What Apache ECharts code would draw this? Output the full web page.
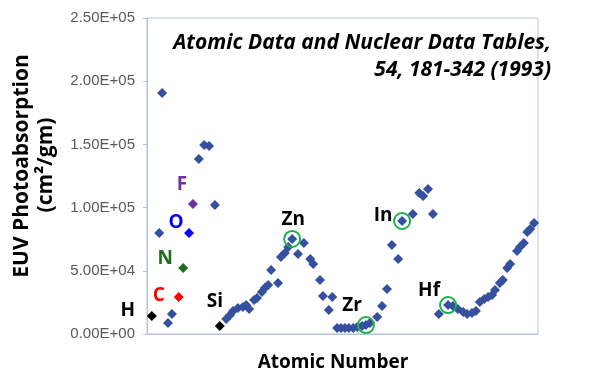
<!DOCTYPE html>
<html>
<head>
<meta charset="utf-8">
<script src="https://cdn.jsdelivr.net/npm/echarts@6/dist/echarts.min.js"></script>
<style>
  html, body { margin: 0; padding: 0; background: #ffffff; }
  #chart { width: 590px; height: 383px; }
</style>
</head>
<body>
<div id="chart"></div>
<script>
// ---- Data (x = position along the atomic-number axis, y = cm^2/gm) ----
const elementPos = [2.5, 3.1, 4.3, 5.1, 10.6, 11.7, 12.7, 13.9, 16.2, 17.0, 17.6, 18.6, 19.6, 20.3, 20.9, 21.9, 22.5, 23.5, 24.1, 24.8, 25.4, 26.8, 27.4, 28.2, 28.9, 29.7, 30.9, 32.1, 33.4, 34.0, 35.4, 36.0, 37.2, 37.9, 38.9, 39.7, 40.5, 41.3, 42.2, 43.0, 44.0, 44.8, 45.6, 47.1, 48.1, 49.1, 50.1, 51.4, 52.2, 54.4, 55.7, 56.5, 57.5, 58.5, 59.7, 61.6, 62.6, 63.6, 64.7, 65.5, 66.5, 67.3, 68.1, 69.0, 69.8, 70.6, 71.2, 72.2, 72.8, 73.7, 74.3, 75.7, 76.3, 77.1, 77.8, 78.4, 79.2];
const absorption = [79900, 190600, 8700, 15800, 138400, 149500, 148700, 102000, 11900, 15000, 18200, 20600, 21400, 22900, 19800, 26900, 28500, 33200, 36400, 38800, 50600, 40400, 60900, 64100, 68800, 75200, 63300, 72000, 59300, 55400, 42700, 30100, 19000, 29300, 4700, 4700, 4700, 4700, 4700, 5500, 6300, 7100, 8700, 13500, 22200, 35600, 70400, 59300, 89400, 94900, 111600, 109200, 114700, 94900, 15800, 22900, 22200, 19800, 17400, 15800, 16600, 18200, 25300, 27700, 29300, 30900, 34800, 40400, 42700, 52200, 55400, 65700, 68800, 72000, 80700, 83100, 87800];

const labelledNames = ['H', 'C', 'N', 'O', 'F', 'Si'];
const labelledPos = [1.0, 6.5, 7.4, 8.6, 9.4, 14.9];
const labelledValues = [14200, 29300, 52200, 79900, 102800, 6300];

const circledNames = ['Zn', 'Zr', 'In', 'Hf'];
const circledPos = [29.7, 44.8, 52.2, 61.6];
const circledValues = [75200, 7100, 89400, 22900];

const yTicks = [0, 50000, 100000, 150000, 200000, 250000];

// ---- Styles ----
const blue = '#34509f';
const labelledColors = { H: '#000000', C: '#ff0000', N: '#1e6b1e', O: '#0000ff', F: '#7030a0', Si: '#000000' };
const labelledOffsets = { H: [-24, -5], C: [-20, -1], N: [-18, -9], O: [-13, -10], F: [-11, -19], Si: [-5, -24] };
const circledOffsets = { Zn: [1, -19], Zr: [-14, -19], In: [-19, -5], Hf: [-19, -14] };
const labelFont = { fontFamily: 'Open Sans', fontWeight: 'bold', fontSize: 19 };

function sci(v) {
  if (v === 0) return '0.00E+00';
  const e = Math.floor(Math.log10(v) + 1e-9);
  const m = v / Math.pow(10, e);
  return m.toFixed(2) + 'E+' + String(e).padStart(2, '0');
}

const chart = echarts.init(document.getElementById('chart'), null, { renderer: 'canvas' });

const mainData = elementPos.map((x, i) => [x, absorption[i]]);
const labelledSeries = labelledNames.map((name, i) => ({
  type: 'scatter',
  name: name,
  symbol: 'diamond',
  symbolSize: 10,
  itemStyle: { color: labelledColors[name], opacity: 1 },
  data: [[labelledPos[i], labelledValues[i]]],
  label: Object.assign({
    show: true, position: 'inside', formatter: name,
    color: labelledColors[name], offset: labelledOffsets[name]
  }, labelFont),
  z: 3
}));

const circleData = circledNames.map((name, i) => ({
  value: [circledPos[i], circledValues[i]],
  label: Object.assign({
    show: true, position: 'inside', formatter: name, color: '#000000',
    offset: circledOffsets[name]
  }, labelFont)
}));

const titleStyle = { fontFamily: 'Open Sans', fontStyle: 'italic', fontWeight: 'bold', fontSize: 21, fill: '#000', align: 'right', verticalAlign: 'middle' };
const axisNameStyle = { fontFamily: 'Open Sans', fontWeight: 'bold', fontSize: 21, fill: '#000', align: 'center', verticalAlign: 'middle' };

chart.setOption({
  animation: false,
  backgroundColor: '#ffffff',
  grid: { left: 147, right: 52, top: 18, bottom: 49, show: true, borderColor: '#b4c2e0', borderWidth: 1 },
  xAxis: {
    type: 'value', min: 0, max: 80,
    axisLine: { show: true, lineStyle: { color: '#b4c2e0' } },
    axisTick: { show: false }, axisLabel: { show: false }, splitLine: { show: false }
  },
  yAxis: {
    type: 'value', min: 0, max: 250000, interval: 50000,
    axisLine: { show: true, lineStyle: { color: '#b4c2e0' } },
    axisTick: { show: true, length: 4, lineStyle: { color: '#b4c2e0' } },
    splitLine: { show: false },
    axisLabel: {
      formatter: function (v) { return yTicks.indexOf(v) >= 0 ? sci(v) : ''; },
      color: '#595959', fontFamily: 'Liberation Sans', fontSize: 15, margin: 12
    }
  },
  graphic: [
    { type: 'text', x: 551, y: 43, style: Object.assign({ text: 'Atomic Data and Nuclear Data Tables,' }, titleStyle) },
    { type: 'text', x: 551, y: 70, style: Object.assign({ text: '54, 181-342 (1993)' }, titleStyle) },
    { type: 'text', x: 22, y: 166, rotation: Math.PI / 2, style: Object.assign({ text: 'EUV Photoabsorption' }, axisNameStyle) },
    { type: 'text', x: 46, y: 165, rotation: Math.PI / 2, style: Object.assign({ text: '(cm²/gm)' }, axisNameStyle) },
    { type: 'text', x: 333, y: 363, style: Object.assign({ text: 'Atomic Number' }, axisNameStyle, { fontSize: 19 }) }
  ],
  series: [
    {
      type: 'scatter', name: 'elements', symbol: 'diamond', symbolSize: 10,
      itemStyle: { color: blue, opacity: 1 }, data: mainData, z: 2
    }
  ].concat(labelledSeries).concat([
    {
      type: 'scatter', name: 'circled', symbol: 'circle', symbolSize: 16,
      itemStyle: { color: 'rgba(0,0,0,0)', borderColor: '#1fb04c', borderWidth: 2, opacity: 1 },
      data: circleData, z: 4
    }
  ])
});
</script>
</body>
</html>
